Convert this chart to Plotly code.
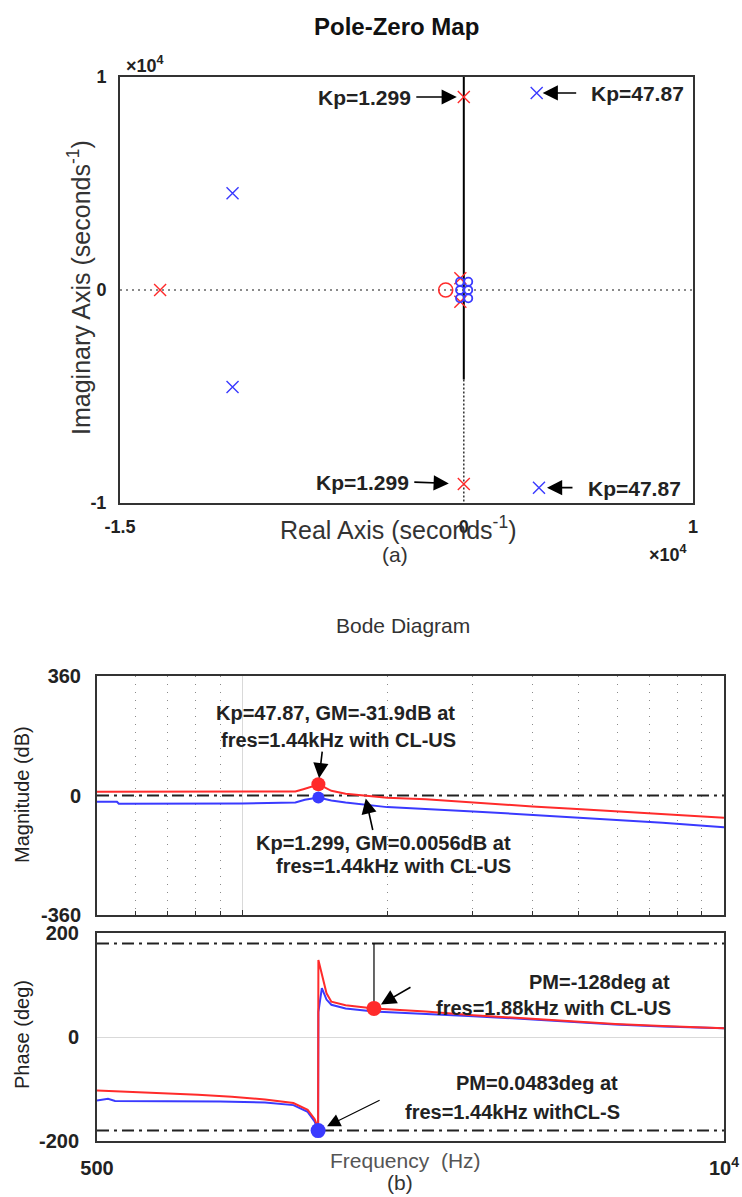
import numpy as np
import plotly.graph_objects as go

W, H = 742, 1197
FONT = "Liberation Sans, Arial, sans-serif"
RED = "#ff2b2b"
BLUE = "#3a3aff"
INK = "#222222"

# ---------------- Pole-zero map data (rad/s) ----------------
pz_red_pole_re = [-13250, 0, 0, -150, -150]
pz_red_pole_im = [0, 9060, -9110, 550, -550]
pz_red_zero_re = [-790]
pz_red_zero_im = [0]
pz_blue_pole_re = [-10090, -10090, 3180, 3280]
pz_blue_pole_im = [4540, -4550, 9250, -9280]
pz_blue_zero_re = [-166, 196, -166, 196, -166, 196]
pz_blue_zero_im = [390, 390, 0, 0, -390, -390]

# ---------------- Bode data ----------------
mag_red_f = [500, 1000, 1290, 1340, 1400, 1440, 1480, 1532, 1640, 1795, 2000, 2405, 3019, 4003, 5055, 5947, 7458, 10000]
mag_red_db = [11.6, 11.6, 12, 19, 27, 33, 25, 14, 5.6, 0.5, -6.6, -11.6, -21.8, -33, -41.5, -48, -56, -67]
mag_blue_f = [500, 550, 555, 1000, 1290, 1350, 1440, 1532, 1640, 1795, 2000, 3019, 4003, 5947, 7458, 10000]
mag_blue_db = [-18.8, -18.8, -25, -24, -21, -13, -6, -15, -21, -27, -35, -48, -58, -72, -82, -96]

ph_red_f = [500, 665, 810, 952, 1116, 1278, 1368, 1415, 1438, 1440, 1447, 1464, 1497, 1532, 1640, 1878, 2405, 3019, 3784, 4744, 5947, 7458, 10000]
ph_red_deg = [-103, -107, -111, -115, -120, -127, -140, -158, -176, 148, 140, 122, 84, 68, 61, 55, 49, 42, 36, 30, 25, 21, 17]
ph_blue_f = [500, 515, 527, 545, 900, 1116, 1278, 1368, 1415, 1438, 1440, 1464, 1497, 1532, 1640, 1878, 2405, 3019, 3784, 4744, 5947, 7458, 10000]
ph_blue_deg = [-122, -120, -119, -123, -124, -126, -131, -144, -163, -179, 48, 94, 72, 62, 55, 49, 45, 40, 35, 29, 24, 20, 17]

mag_dots_f = [1440, 1440]
mag_dots_db = [34, -6]
ph_red_dot = (1878, 55)
ph_blue_dot = (1438, -180)

grid_minor_f = [600, 700, 800, 900, 2000, 3000, 4000, 5000, 6000, 7000, 8000, 9000]


def px(x):
    return x / W


def py(y):
    return 1 - y / H


fig = go.Figure()

# ---- Pole-zero traces ----
fig.add_trace(go.Scatter(x=[-15000, 10000], y=[0, 0], mode="lines",
                         line=dict(color="#8a8a8a", width=2, dash="2px,4px"), xaxis="x", yaxis="y"))
fig.add_trace(go.Scatter(x=[0, 0], y=[10000, -4200], mode="lines",
                         line=dict(color="black", width=2), xaxis="x", yaxis="y"))
fig.add_trace(go.Scatter(x=[0, 0], y=[-4200, -10300], mode="lines", cliponaxis=False,
                         line=dict(color="#333", width=1.5, dash="2px,2px"), xaxis="x", yaxis="y"))
fig.add_trace(go.Scatter(x=pz_red_zero_re, y=pz_red_zero_im, mode="markers",
                         marker=dict(symbol="circle-open", size=14, color=RED, line=dict(width=1.6, color=RED)),
                         xaxis="x", yaxis="y"))
fig.add_trace(go.Scatter(x=pz_red_pole_re, y=pz_red_pole_im, mode="markers",
                         marker=dict(symbol="x-thin", size=12, color=RED, line=dict(width=1.4, color=RED)),
                         xaxis="x", yaxis="y"))
fig.add_trace(go.Scatter(x=pz_blue_zero_re, y=pz_blue_zero_im, mode="markers",
                         marker=dict(symbol="circle-open", size=8, color=BLUE, line=dict(width=1.8, color=BLUE)),
                         xaxis="x", yaxis="y"))
fig.add_trace(go.Scatter(x=pz_blue_pole_re, y=pz_blue_pole_im, mode="markers",
                         marker=dict(symbol="x-thin", size=12, color=BLUE, line=dict(width=1.4, color=BLUE)),
                         xaxis="x", yaxis="y"))

# ---- Magnitude traces ----
dashdot = "12px,5px,3px,5px"
fig.add_trace(go.Scatter(x=[500, 10000], y=[0, 0], mode="lines",
                         line=dict(color=INK, width=2, dash=dashdot), xaxis="x2", yaxis="y2"))
fig.add_trace(go.Scatter(x=mag_red_f, y=mag_red_db, mode="lines",
                         line=dict(color=RED, width=2), xaxis="x2", yaxis="y2"))
fig.add_trace(go.Scatter(x=mag_blue_f, y=mag_blue_db, mode="lines",
                         line=dict(color=BLUE, width=2), xaxis="x2", yaxis="y2"))
fig.add_trace(go.Scatter(x=mag_dots_f[1:], y=mag_dots_db[1:], mode="markers",
                         marker=dict(color=BLUE, size=12), xaxis="x2", yaxis="y2"))
fig.add_trace(go.Scatter(x=mag_dots_f[:1], y=mag_dots_db[:1], mode="markers",
                         marker=dict(color=RED, size=14), xaxis="x2", yaxis="y2"))

# ---- Phase traces ----
fig.add_trace(go.Scatter(x=[500, 10000], y=[180, 180], mode="lines",
                         line=dict(color=INK, width=2, dash=dashdot), xaxis="x3", yaxis="y3"))
fig.add_trace(go.Scatter(x=[500, 10000], y=[-180, -180], mode="lines",
                         line=dict(color=INK, width=2, dash=dashdot), xaxis="x3", yaxis="y3"))
fig.add_trace(go.Scatter(x=[ph_red_dot[0], ph_red_dot[0]], y=[180, ph_red_dot[1]], mode="lines",
                         line=dict(color="black", width=1.2), xaxis="x3", yaxis="y3"))
fig.add_trace(go.Scatter(x=ph_blue_f, y=ph_blue_deg, mode="lines",
                         line=dict(color=BLUE, width=2), xaxis="x3", yaxis="y3"))
fig.add_trace(go.Scatter(x=ph_red_f, y=ph_red_deg, mode="lines",
                         line=dict(color=RED, width=2), xaxis="x3", yaxis="y3"))
fig.add_trace(go.Scatter(x=[ph_red_dot[0]], y=[ph_red_dot[1]], mode="markers",
                         marker=dict(color=RED, size=15), xaxis="x3", yaxis="y3"))
fig.add_trace(go.Scatter(x=[ph_blue_dot[0]], y=[ph_blue_dot[1]], mode="markers", cliponaxis=False,
                         marker=dict(color=BLUE, size=15), xaxis="x3", yaxis="y3"))

box = dict(showline=True, mirror=True, linecolor="#333", linewidth=2, zeroline=False,
           automargin=False)
tickfont_pz = dict(family=FONT, size=18, color=INK)
tickfont_bd = dict(family=FONT, size=20, color=INK)
logrange = [np.log10(500), 4]


def b(s):
    return "<b>" + s + "</b>"


fig.update_layout(
    width=W, height=H, margin=dict(l=0, r=0, t=0, b=0), template="none",
    showlegend=False, paper_bgcolor="white", plot_bgcolor="white",
    font=dict(family=FONT, color=INK),
    xaxis=dict(domain=[px(120), px(693)], range=[-15000, 10000], anchor="y",
               tickvals=[-15000, 0, 10000], ticktext=[b("-1.5"), b("0"), b("1")],
               showgrid=False, ticks="", tickfont=tickfont_pz, ticklabelstandoff=6, **box),
    yaxis=dict(domain=[py(503), py(77)], range=[-10000, 10000], anchor="x",
               tickvals=[-10000, 0, 10000], ticktext=[b("-1"), b("0"), b("1")],
               showgrid=False, ticks="", tickfont=tickfont_pz, ticklabelstandoff=8, **box),
    xaxis2=dict(domain=[px(97), px(724)], type="log", range=logrange, anchor="y2",
                tickvals=[1000], showticklabels=False, showgrid=True, gridcolor="#d9d9d9",
                ticks="inside", ticklen=5, tickcolor="#333",
                minor=dict(tickvals=grid_minor_f, showgrid=True, griddash="1px,7px", gridcolor="#8a8a8a",
                           gridwidth=1.2, ticks="inside", ticklen=4, tickcolor="#333"),
                **box),
    yaxis2=dict(domain=[py(915), py(676)], range=[-360, 360], anchor="x2",
                tickvals=[-360, 0, 360], ticktext=[b("-360"), b("0"), b("360")],
                showgrid=False, ticks="", tickfont=tickfont_bd, ticklabelstandoff=10, **box),
    xaxis3=dict(domain=[px(97), px(724)], type="log", range=logrange, anchor="y3",
                tickvals=[500, 10000], ticktext=[b("500"), b("10<sup>4</sup>")],
                showgrid=False, ticks="", tickfont=tickfont_bd, ticklabelstandoff=8, **box),
    yaxis3=dict(domain=[py(1141), py(933)], range=[-200, 200], anchor="x3",
                tickvals=[-200, 0, 200], ticktext=[b("-200"), b("0"), b("200")],
                showgrid=True, gridcolor="#d9d9d9", ticks="", tickfont=tickfont_bd,
                ticklabelstandoff=12, **box),
)

ann = []


def text(x, y, s, size, bold=False, xanchor="center", color=INK, angle=0):
    ann.append(dict(x=px(x), y=py(y), xref="paper", yref="paper", text=b(s) if bold else s,
                    showarrow=False, xanchor=xanchor, yanchor="middle", textangle=angle,
                    font=dict(family=FONT, size=size, color=color)))


def arrow(xr, yr, x, y, ax, ay, standoff, width=1.6, size=1.9):
    ann.append(dict(x=x, y=y, xref=xr, yref=yr, text="", showarrow=True, ax=ax, ay=ay,
                    arrowhead=2, arrowsize=size, arrowwidth=width, arrowcolor="black",
                    standoff=standoff))


# Pole-zero texts
text(397, 26, "Pole-Zero Map", 24, bold=True, color="#111")
text(145, 64, "<b>×10<sup>4</sup></b>", 18)
text(668, 553, "<b>×10<sup>4</sup></b>", 18)
text(79, 288, "Imaginary Axis (seconds<sup>-1</sup>)", 25, angle=-90, color="#333")
text(398, 528, "Real Axis (seconds<sup>-1</sup>)", 25, color="#333")
text(395, 555, "(a)", 21, color="#333")
text(413, 97, "Kp=1.299", 21, bold=True, xanchor="right")
text(589, 93, "Kp=47.87", 21, bold=True, xanchor="left")
text(411, 482, "Kp=1.299", 21, bold=True, xanchor="right")
text(586, 488, "Kp=47.87", 21, bold=True, xanchor="left")
arrow("x", "y", pz_red_pole_re[1], pz_red_pole_im[1], -49, 0, 7)
arrow("x", "y", pz_blue_pole_re[2], pz_blue_pole_im[2], 41, 0, 6)
arrow("x", "y", pz_red_pole_re[2], pz_red_pole_im[2], -51, -2, 15)
arrow("x", "y", pz_blue_pole_re[3], pz_blue_pole_im[3], 35, 0, 8)

# Bode texts
text(403, 625, "Bode Diagram", 21, color="#333")
text(22, 795, "Magnitude (dB)", 20, angle=-90, color="#222")
text(22, 1035, "Phase (deg)", 20, angle=-90, color="#222")
text(405, 1160, "Frequency\u00a0 (Hz)", 21, color="#555")
text(400, 1182, "(b)", 21, color="#333")

text(457, 713, "Kp=47.87, GM=-31.9dB at", 20, bold=True, xanchor="right")
text(458, 740, "fres=1.44kHz with CL-US", 20, bold=True, xanchor="right")
text(513, 843, "Kp=1.299, GM=0.0056dB at", 20, bold=True, xanchor="right")
text(513, 866, "fres=1.44kHz with CL-US", 20, bold=True, xanchor="right")
text(672, 982, "PM=-128deg at", 20, bold=True, xanchor="right")
text(673, 1008, "fres=1.88kHz with CL-US", 20, bold=True, xanchor="right")
text(620, 1083, "PM=0.0483deg at", 20, bold=True, xanchor="right")
text(622, 1112, "fres=1.44kHz withCL-S", 20, bold=True, xanchor="right")

arrow("x2", "y2", np.log10(mag_dots_f[0]), mag_dots_db[0], 4, -34, 6)
arrow("x2", "y2", np.log10(1800), 0, 8, 36, 3)
arrow("x3", "y3", np.log10(ph_red_dot[0]), ph_red_dot[1], 38, -22, 8)
arrow("x3", "y3", np.log10(ph_blue_dot[0]), ph_blue_dot[1], 63, -31, 10, width=1.1, size=2.4)

fig.update_layout(annotations=ann)
fig.write_html("out.html")
